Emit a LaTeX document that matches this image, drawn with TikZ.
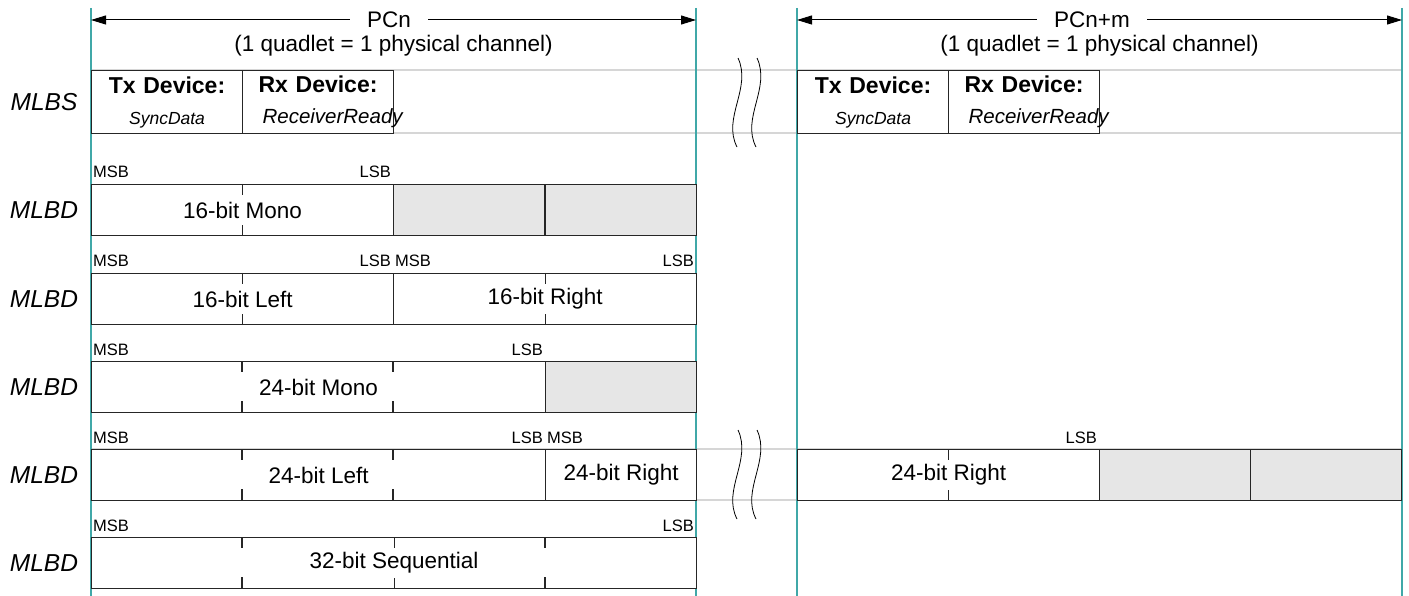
\documentclass[tikz,border=0pt]{standalone}
\usepackage{fontspec}
\setmainfont{Liberation Sans}
\usetikzlibrary{arrows.meta, positioning}

\definecolor{chan}{RGB}{64,168,168}
\definecolor{rowgray}{RGB}{214,214,214}
\definecolor{padgray}{RGB}{230,230,230}

\begin{document}
\begin{tikzpicture}[
  x=1pt, y=-1pt,
  font=\fontsize{22.5}{26}\selectfont,
  chanln/.style={chan, line width=1.5pt},
  rowln/.style={rowgray, line width=1.5pt},
  field/.style={draw=black!85, line width=1.1pt, fill=white, anchor=north west,
                inner sep=0pt, minimum height=51pt},
  pad/.style={field, fill=padgray, minimum width=151pt},
  sync/.style={field, minimum width=151pt, text width=151pt, minimum height=63pt,
               align=center, font=\fontsize{23}{31}\selectfont},
  tick/.style={black!85, line width=1.1pt},
  bit/.style={font=\fontsize{16.5}{16.5}\selectfont, inner sep=2pt, anchor=base west},
  lsb/.style={bit, anchor=base east},
  kind/.style={font=\fontsize{24.5}{24.5}\selectfont\itshape},
  hdr/.style={inner xsep=17pt, inner ysep=0pt},
  ar/.style={-{Triangle[length=15pt,width=9pt]}, line width=1pt},
  brk/.style={line width=0.8pt}
]
\useasboundingbox (0,0) rectangle (1409,596);

\draw[rowln] (91,70) -- (1402,70);
\draw[rowln] (91,133) -- (1402,133);
\draw[rowln] (91,449) -- (1402,449);
\draw[rowln] (91,500) -- (1402,500);

\coordinate (pcnL) at (91,20);
\coordinate (pcnR) at (696,20);
\coordinate (pcmL) at (797,20);
\coordinate (pcmR) at (1402,20);
\draw[chanln] (91,8) -- (91,596);
\draw[chanln] (696,8) -- (696,596);
\draw[chanln] (797,8) -- (797,596);
\draw[chanln] (1402,8) -- (1402,596);

\node[hdr] (pcn) at (389,20) {PCn};
\node (pcnsub) at (393.5,46) {(1 quadlet = 1 physical channel)};
\draw[ar] (pcn) -- (pcnL);
\draw[ar] (pcn) -- (pcnR);
\node[hdr] (pcm) at (1092,20) {PCn+m};
\node (pcmsub) at (1099.5,46) {(1 quadlet = 1 physical channel)};
\draw[ar] (pcm) -- (pcmL);
\draw[ar] (pcm) -- (pcmR);

\draw[brk] (738,58) .. controls (752,88) and (722,118) .. (737,147);
\draw[brk] (757,58) .. controls (771,88) and (741,118) .. (756,147);
\draw[brk] (738,430) .. controls (752,460) and (722,490) .. (737,519);
\draw[brk] (757,430) .. controls (771,460) and (741,490) .. (756,519);

% MLBS
\node[kind] (lbs) at (44,102) {MLBS};
\node[sync] (tx) at (91,70)
     {\textbf{Tx Device:}\\{\fontsize{17.5}{31}\selectfont\itshape SyncData}};
\node[sync] (rx) at (242,70)
     {\textbf{Rx Device:}\\\makebox[151pt][l]{\hspace{20pt}\fontsize{20.5}{31}\selectfont\itshape ReceiverReady}};
\node[sync] (tx2) at (797,70)
     {\textbf{Tx Device:}\\{\fontsize{17.5}{31}\selectfont\itshape SyncData}};
\node[sync] (rx2) at (948,70)
     {\textbf{Rx Device:}\\\makebox[151pt][l]{\hspace{20pt}\fontsize{20.5}{31}\selectfont\itshape ReceiverReady}};

% 16-bit mono
\node[kind] (lbd1) at (44,210) {MLBD};
\node[field, minimum width=302pt] (mono16) at (91,184) {16-bit Mono};
\node[pad] (mono16p1) at (393,184) {};
\node[pad] (mono16p2) at (545,184) {};
\node[bit] (mono16m) at (91,178) {MSB};
\node[lsb] (mono16l) at (393,178) {LSB};
\draw[tick] (mono16.north) -- ++(0,11);
\draw[tick] (mono16.south) -- ++(0,-11);

% 16-bit stereo
\node[kind] (lbd2) at (44,299) {MLBD};
\node[field, minimum width=302pt] (left16) at (91,273) {16-bit Left};
\node[field, minimum width=303pt] (right16) at (393,273) {16-bit Right};
\node[bit] (left16m) at (91,267) {MSB};
\node[lsb] (left16l) at (393,267) {LSB};
\node[bit] (right16m) at (393,267) {MSB};
\node[lsb] (right16l) at (696,267) {LSB};
\draw[tick] (left16.north) -- ++(0,11);
\draw[tick] (left16.south) -- ++(0,-11);
\draw[tick] (right16.north) -- ++(0,11);
\draw[tick] (right16.south) -- ++(0,-11);

% 24-bit mono
\node[kind] (lbd3) at (44,387) {MLBD};
\node[field, minimum width=454pt] (mono24) at (91,361) {24-bit Mono};
\node[pad] (mono24p) at (545,361) {};
\node[bit] (mono24m) at (91,355) {MSB};
\node[lsb] (mono24l) at (545,355) {LSB};
\draw[tick] (242,361) -- ++(0,11);
\draw[tick] (242,412) -- ++(0,-11);
\draw[tick] (393,361) -- ++(0,11);
\draw[tick] (393,412) -- ++(0,-11);

% 24-bit stereo
\node[kind] (lbd4) at (44,475) {MLBD};
\node[field, minimum width=454pt] (left24) at (91,449) {24-bit Left};
\node[field, minimum width=151pt] (right24a) at (545,449) {24-bit Right};
\node[field, minimum width=302pt] (right24b) at (797,449) {24-bit Right};
\node[pad] (right24p1) at (1099,449) {};
\node[pad] (right24p2) at (1250,449) {};
\node[bit] (left24m) at (91,443) {MSB};
\node[lsb] (left24l) at (545,443) {LSB};
\node[bit] (right24m) at (545,443) {MSB};
\node[lsb] (right24l) at (1099,443) {LSB};
\draw[tick] (242,449) -- ++(0,11);
\draw[tick] (242,500) -- ++(0,-11);
\draw[tick] (393,449) -- ++(0,11);
\draw[tick] (393,500) -- ++(0,-11);
\draw[tick] (right24b.north) -- ++(0,11);
\draw[tick] (right24b.south) -- ++(0,-11);

% 32-bit
\node[kind] (lbd5) at (44,563) {MLBD};
\node[field, minimum width=605pt] (seq32) at (91,537) {32-bit Sequential};
\node[bit] (seq32m) at (91,531) {MSB};
\node[lsb] (seq32l) at (696,531) {LSB};
\draw[tick] (242,537) -- ++(0,11);
\draw[tick] (242,588) -- ++(0,-11);
\draw[tick] (seq32.north) -- ++(0,11);
\draw[tick] (seq32.south) -- ++(0,-11);
\draw[tick] (545,537) -- ++(0,11);
\draw[tick] (545,588) -- ++(0,-11);
\end{tikzpicture}
\end{document}
